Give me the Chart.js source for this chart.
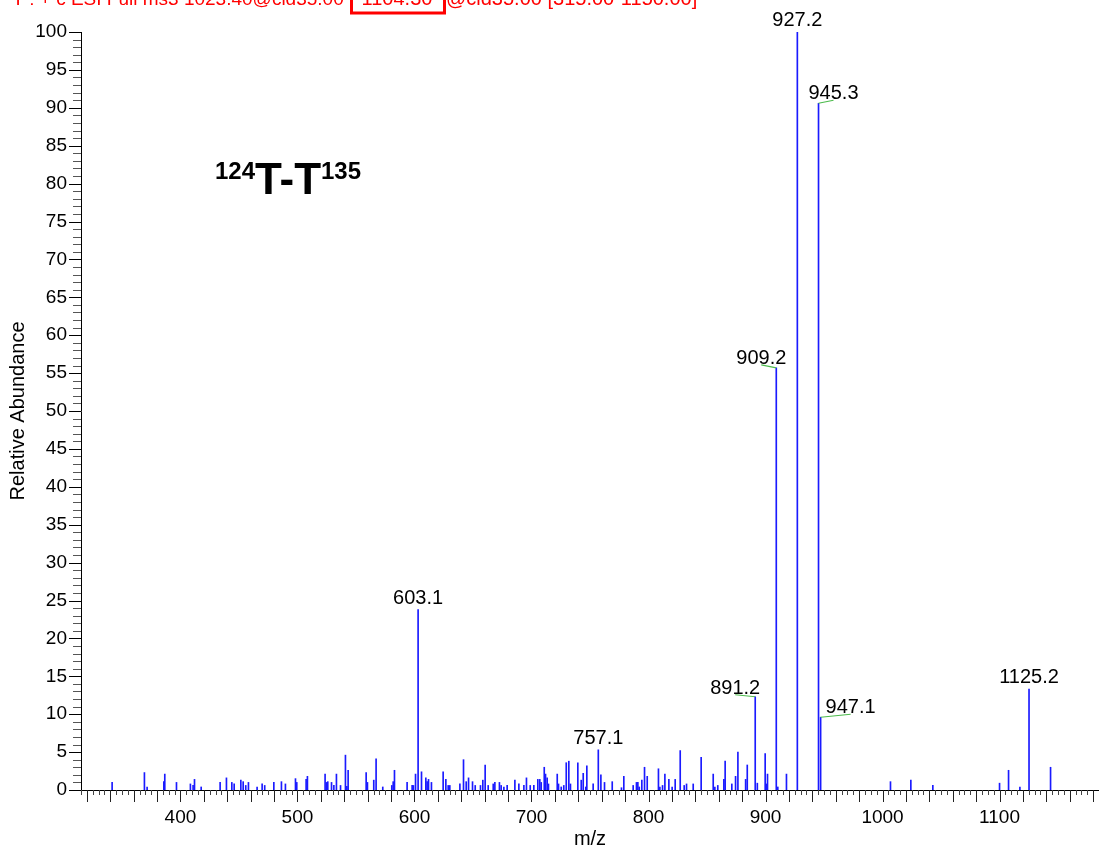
<!DOCTYPE html>
<html>
<head>
<meta charset="utf-8">
<title>MS3 spectrum</title>
<script src="https://cdn.jsdelivr.net/npm/chart.js@4/dist/chart.umd.min.js"></script>
<style>
  html, body { margin: 0; padding: 0; background: #ffffff; overflow: hidden; }
  canvas { display: block; }
</style>
</head>
<body>
<canvas id="spectrum" width="1099" height="852"></canvas>
<script>
// ---- spectrum data: centroid m/z and relative abundance (%) ----
const mzValues = [
  341.6, 369.2, 371.5, 385.8, 386.6, 396.6, 408.5, 410.8, 412.0, 417.7,
  433.9, 439.3, 443.9, 445.9, 451.6, 453.6, 455.8, 458.1, 465.5, 469.8,
  472.0, 479.8, 486.3, 489.7, 498.3, 499.4, 507.4, 508.5, 523.6, 524.8,
  525.9, 529.1, 531.1, 533.3, 536.8, 541.0, 542.2, 543.3, 558.7, 559.8,
  565.2, 567.2, 572.9, 580.6, 581.8, 582.9, 593.7, 598.0, 599.1, 600.9,
  603.1, 606.0, 609.7, 610.8, 612.0, 614.5, 624.5, 626.8, 628.8, 630.2,
  638.8, 641.9, 644.2, 646.2, 649.6, 651.9, 656.4, 658.4, 660.4, 663.0,
  667.3, 668.7, 672.6, 674.1, 676.4, 679.2, 685.8, 689.2, 693.5, 695.7,
  698.9, 702.0, 705.4, 707.1, 708.3, 710.9, 712.0, 713.4, 714.5, 722.0,
  723.1, 725.4, 727.6, 729.7, 731.9, 733.3, 739.6, 742.5, 744.2, 746.4,
  747.3, 752.7, 757.1, 759.3, 762.4, 769.0, 776.9, 778.9, 786.9, 789.7,
  790.9, 792.1, 794.3, 796.6, 798.9, 808.5, 809.7, 812.0, 814.0, 817.4,
  820.2, 822.8, 827.1, 830.5, 832.5, 838.2, 845.0, 855.3, 856.7, 859.2,
  864.4, 865.5, 871.2, 874.4, 876.4, 883.0, 884.4, 891.2, 893.0, 899.7,
  900.6, 901.7, 909.2, 910.5, 917.9, 927.2, 945.3, 947.1, 1006.8, 1024.2,
  1043.0, 1100.0, 1107.7, 1117.4, 1125.2, 1143.6
];
const intensities = [
  1.0, 2.3, 0.4, 1.1, 2.1, 1.0, 0.8, 0.6, 1.4, 0.4,
  1.0, 1.6, 1.0, 0.8, 1.3, 1.1, 0.6, 1.0, 0.4, 0.8,
  0.6, 1.0, 1.1, 0.8, 1.5, 1.0, 1.4, 1.8, 2.1, 1.0,
  1.1, 1.0, 0.6, 2.1, 0.6, 4.6, 0.5, 2.6, 2.3, 1.0,
  1.3, 4.1, 0.4, 0.6, 1.1, 2.6, 1.0, 0.6, 0.6, 2.1,
  23.8, 2.4, 1.6, 1.1, 1.4, 1.0, 2.4, 1.4, 0.6, 0.6,
  0.8, 4.0, 1.1, 1.6, 1.1, 0.6, 0.6, 1.3, 3.3, 0.6,
  0.8, 1.0, 1.0, 0.6, 0.4, 0.6, 1.3, 0.8, 0.6, 1.6,
  0.6, 0.6, 1.4, 1.4, 1.0, 3.0, 2.1, 1.6, 0.8, 2.1,
  0.8, 0.4, 0.6, 3.6, 3.8, 0.8, 3.6, 1.3, 2.2, 0.4,
  3.2, 0.8, 5.3, 2.0, 1.0, 1.1, 0.3, 1.8, 0.6, 1.0,
  1.0, 0.4, 1.3, 3.0, 1.8, 2.8, 0.4, 0.6, 2.1, 1.4,
  0.4, 1.4, 5.2, 0.6, 0.8, 0.8, 4.3, 2.1, 0.4, 0.6,
  1.4, 3.8, 0.8, 1.8, 5.0, 1.4, 3.3, 12.3, 0.9, 4.8,
  0.8, 2.1, 55.7, 0.4, 2.1, 100.0, 90.6, 9.6, 1.1, 1.3,
  0.6, 0.9, 2.6, 0.4, 13.3, 3.0
];
// peaks that carry an m/z annotation
const labeledPeaks = [603.1, 757.1, 891.2, 909.2, 927.2, 945.3, 947.1, 1125.2];

// ---- axis tick labels ----
const xTickLabels = [400, 500, 600, 700, 800, 900, 1000, 1100];
const yTickLabels = [0, 5, 10, 15, 20, 25, 30, 35, 40, 45, 50, 55, 60, 65, 70, 75, 80, 85, 90, 95, 100];

// ---- texts ----
const scanHeader = ['T : + c ESI Full ms3 1023.40@cid35.00 ', '1104.30', '@cid35.00 [315.00-1150.00]'];
const peptideLabel = ['124', 'T-T', '135'];
const xAxisTitle = 'm/z';
const yAxisTitle = 'Relative Abundance';

// ---- layout / style ----
const FONT = '"Liberation Sans", Arial, Helvetica, sans-serif';
const PEAK_COLOR = '#1a1aff';
const LEADER_COLOR = '#4cbb4c';
// label placement relative to the peak apex (pixels); entries with lead=true get a connector line
const labelPlacement = {
  '891.2': { dx: -20, dy: -3, lead: true },
  '909.2': { dx: -15, dy: -4, lead: true },
  '945.3': { dx: 15, dy: -4, lead: true },
  '947.1': { dx: 30, dy: -4, lead: true }
};
const X_MINOR_STEP = 5, X_MID_STEP = 20;
const Y_MINOR_STEP = 1, Y_MAJOR_STEP = 5;

const points = mzValues.map((mz, i) => ({ x: mz, y: intensities[i] }));

const decorations = {
  id: 'spectrumDecorations',
  afterDraw(chart) {
    const ctx = chart.ctx;
    const xs = chart.scales.x, ys = chart.scales.y;
    const area = chart.chartArea;
    ctx.save();

    // minor / major tick marks on the y axis
    for (let v = ys.min; v <= ys.max + 1e-9; v += Y_MINOR_STEP) {
      const py = Math.round(ys.getPixelForValue(v)) + 0.5;
      const major = Math.abs(v % Y_MAJOR_STEP) < 1e-9;
      const len = major ? 12 : 8;
      ctx.strokeStyle = major ? '#000' : '#555';
      ctx.lineWidth = 1;
      ctx.beginPath();
      ctx.moveTo(area.left - len, py);
      ctx.lineTo(area.left, py);
      ctx.stroke();
    }
    // tick marks on the x axis
    const first = Math.ceil(xs.min / X_MINOR_STEP) * X_MINOR_STEP;
    for (let v = first; v <= xs.max; v += X_MINOR_STEP) {
      const px = Math.round(xs.getPixelForValue(v)) + 0.5;
      const mid = v % X_MID_STEP === 0;
      const len = mid ? 12 : 5;
      ctx.strokeStyle = mid ? '#222' : '#444';
      ctx.beginPath();
      ctx.moveTo(px, area.bottom);
      ctx.lineTo(px, area.bottom + len);
      ctx.stroke();
    }

    // peak annotations
    ctx.font = '20px ' + FONT;
    ctx.fillStyle = '#000';
    ctx.textAlign = 'center';
    ctx.textBaseline = 'alphabetic';
    labeledPeaks.forEach(mz => {
      const idx = mzValues.indexOf(mz);
      const px = xs.getPixelForValue(mz);
      const py = ys.getPixelForValue(intensities[idx]);
      const text = mz.toFixed(1);
      const p = labelPlacement[text] || { dx: 0, dy: -6, lead: false };
      const tx = px + p.dx, ty = py + p.dy;
      if (p.lead) {
        ctx.strokeStyle = LEADER_COLOR;
        ctx.lineWidth = 1.2;
        ctx.beginPath();
        ctx.moveTo(px, py);
        ctx.lineTo(tx, ty + 1);
        ctx.stroke();
      }
      ctx.fillText(text, tx, ty);
    });

    // peptide label with superscript residue numbers
    ctx.textAlign = 'left';
    let x = 215;
    ctx.font = 'bold 24px ' + FONT;
    ctx.fillText(peptideLabel[0], x, 179);
    x += ctx.measureText(peptideLabel[0]).width;
    ctx.font = 'bold 44px ' + FONT;
    ctx.fillText(peptideLabel[1], x, 194);
    x += ctx.measureText(peptideLabel[1]).width;
    ctx.font = 'bold 24px ' + FONT;
    ctx.fillText(peptideLabel[2], x, 179);

    // scan header (runs off the top edge)
    ctx.font = '19px ' + FONT;
    ctx.fillStyle = '#ff0000';
    ctx.textAlign = 'right';
    ctx.fillText(scanHeader[0], 349, 5);
    ctx.font = '20px ' + FONT;
    ctx.textAlign = 'center';
    ctx.fillText(scanHeader[1], 397, 5);
    ctx.textAlign = 'left';
    ctx.fillText(scanHeader[2], 446, 5);
    ctx.strokeStyle = '#ff0000';
    ctx.lineWidth = 3;
    ctx.strokeRect(351.5, -5, 93, 18);

    ctx.restore();
  }
};

new Chart(document.getElementById('spectrum'), {
  type: 'bar',
  data: {
    datasets: [{
      data: points,
      backgroundColor: PEAK_COLOR,
      borderWidth: 0,
      barThickness: 1,
      grouped: false
    }]
  },
  options: {
    responsive: false,
    animation: false,
    devicePixelRatio: 1,
    layout: { padding: { top: 32, right: 0, bottom: 0, left: 0 } },
    plugins: { legend: { display: false }, tooltip: { enabled: false } },
    scales: {
      x: {
        type: 'linear',
        min: 315,
        max: 1185,
        offset: false,
        afterBuildTicks: s => { s.ticks = xTickLabels.map(v => ({ value: v })); },
        afterFit: s => { s.height = 62; },
        grid: { display: false, drawTicks: false, offset: false },
        border: { display: true, color: '#000', width: 1 },
        ticks: { font: { family: FONT, size: 19 }, color: '#000', padding: 16, maxRotation: 0, autoSkip: false, callback: v => String(v) },
        title: { display: true, text: xAxisTitle, color: '#000', font: { family: FONT, size: 20 }, padding: { top: 0, bottom: 1 } }
      },
      y: {
        type: 'linear',
        min: 0,
        max: 100,
        afterBuildTicks: s => { s.ticks = yTickLabels.map(v => ({ value: v })); },
        afterFit: s => { s.width = 81; },
        grid: { display: false, drawTicks: false },
        border: { display: true, color: '#000', width: 1 },
        ticks: { font: { family: FONT, size: 19 }, color: '#000', padding: 14, autoSkip: false, callback: v => String(v) },
        title: { display: true, text: yAxisTitle, color: '#000', font: { family: FONT, size: 20 }, padding: { top: 6, bottom: 0 } }
      }
    }
  },
  plugins: [decorations]
});
</script>
</body>
</html>
